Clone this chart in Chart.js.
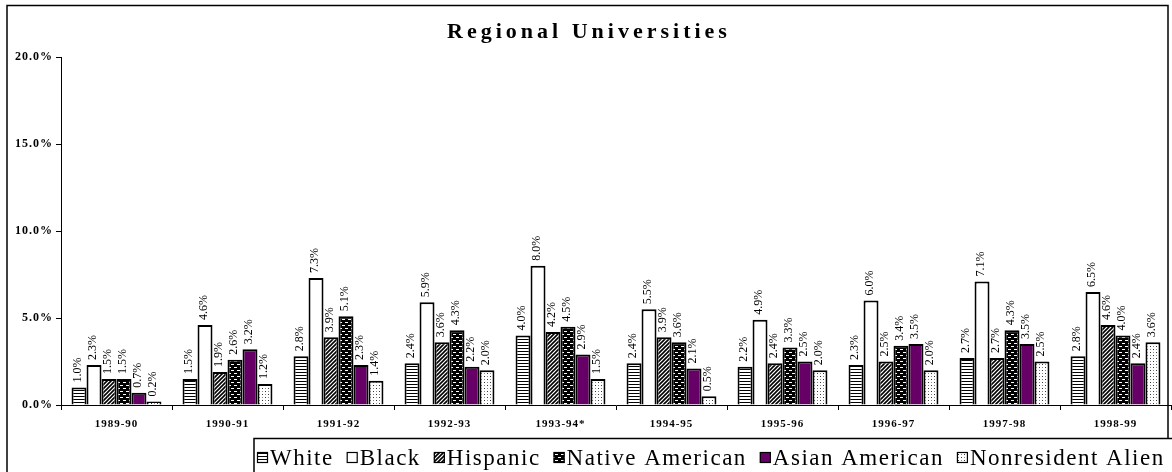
<!DOCTYPE html>
<html>
<head>
<meta charset="utf-8">
<script src="https://cdn.jsdelivr.net/npm/chart.js@4.4.1/dist/chart.umd.min.js"></script>
<style>
html,body{margin:0;padding:0;background:#fff;}
#wrap{width:1172px;height:472px;position:relative;}
</style>
</head>
<body>
<div id="wrap"><canvas id="c" width="1172" height="472"></canvas></div>
<script>
const categories = ['1989-90','1990-91','1991-92','1992-93','1993-94*','1994-95','1995-96','1996-97','1997-98','1998-99'];
const white       = [1.0, 1.5, 2.8, 2.4, 4.0, 2.4, 2.2, 2.3, 2.7, 2.8];
const black       = [2.3, 4.6, 7.3, 5.9, 8.0, 5.5, 4.9, 6.0, 7.1, 6.5];
const hispanic    = [1.5, 1.9, 3.9, 3.6, 4.2, 3.9, 2.4, 2.5, 2.7, 4.6];
const nativeAm    = [1.5, 2.6, 5.1, 4.3, 4.5, 3.6, 3.3, 3.4, 4.3, 4.0];
const asianAm     = [0.7, 3.2, 2.3, 2.2, 2.9, 2.1, 2.5, 3.5, 3.5, 2.4];
const nonresident = [0.2, 1.2, 1.4, 2.0, 1.5, 0.5, 2.0, 2.0, 2.5, 3.6];
const yTicks = [0, 5, 10, 15, 20];
const titleText = 'Regional Universities';
const SERIF = '"Liberation Serif", "Times New Roman", serif';

function tile(w, h, draw) {
  const c = document.createElement('canvas');
  c.width = w; c.height = h;
  const g = c.getContext('2d');
  draw(g);
  return document.getElementById('c').getContext('2d').createPattern(c, 'repeat');
}
const pWhite = tile(4, 3, g => { g.fillStyle = '#fff'; g.fillRect(0,0,4,3); g.fillStyle = '#000'; g.fillRect(0,0,4,1); });
const pHisp = tile(4, 4, g => {
  g.fillStyle = '#fff'; g.fillRect(0,0,4,4);
  g.strokeStyle = '#000'; g.lineWidth = 1.6;
  g.beginPath(); g.moveTo(-1,5); g.lineTo(5,-1); g.stroke();
  g.beginPath(); g.moveTo(-1,1); g.lineTo(1,-1); g.stroke();
  g.beginPath(); g.moveTo(3,5); g.lineTo(5,3); g.stroke();
});
const pNative = tile(6, 6, g => {
  g.fillStyle = '#000'; g.fillRect(0,0,6,6);
  g.fillStyle = '#fff'; g.fillRect(0,1,3,1); g.fillRect(3,4,3,1);
});
const pNonres = tile(6, 6, g => {
  g.fillStyle = '#fff'; g.fillRect(0,0,6,6);
  g.fillStyle = '#333'; g.fillRect(1,1,1,1); g.fillRect(4,4,1,1);
  g.fillStyle = '#888'; g.fillRect(4,1,1,1); g.fillRect(1,4,1,1);
});

function ds(label, data, bg) {
  return { label, data, backgroundColor: bg, borderColor: '#000', borderWidth: 2,
           categoryPercentage: 0.81, barPercentage: 1.0 };
}

const spacingPlugin = {
  id: 'spacing',
  beforeLayout(chart) { chart.ctx.letterSpacing = '1px'; },
  beforeDraw(chart) { chart.ctx.letterSpacing = '1px'; }
};

const labelsPlugin = {
  id: 'barLabels',
  afterDatasetsDraw(chart) {
    const ctx = chart.ctx;
    ctx.save();
    ctx.letterSpacing = '0px';
    ctx.font = '12px ' + SERIF;
    ctx.fillStyle = '#000';
    ctx.textAlign = 'left';
    ctx.textBaseline = 'middle';
    chart.data.datasets.forEach((d, i) => {
      const meta = chart.getDatasetMeta(i);
      meta.data.forEach((el, j) => {
        ctx.save();
        ctx.translate(el.x - 1, el.y - 5);
        ctx.rotate(-Math.PI / 2);
        ctx.fillText(d.data[j].toFixed(1) + '%', 0, 0);
        ctx.restore();
      });
    });
    ctx.restore();
  }
};

const framePlugin = {
  id: 'frame',
  afterDraw(chart) {
    const ctx = chart.ctx;
    ctx.save();
    ctx.strokeStyle = '#000';
    ctx.lineWidth = 1.5;
    ctx.strokeRect(7, 5.5, 1161, 470);
    // title
    ctx.letterSpacing = '4px';
    ctx.font = 'bold 22px ' + SERIF;
    ctx.fillStyle = '#000';
    ctx.textAlign = 'center';
    ctx.textBaseline = 'alphabetic';
    ctx.fillText(titleText, 589, 38);
    // legend
    const boxLeft = 254, boxTop = 438.5;
    ctx.fillStyle = '#fff';
    ctx.fillRect(boxLeft, boxTop, 1172 - boxLeft, 40);
    ctx.lineWidth = 1.5;
    ctx.strokeRect(boxLeft, boxTop, 1180 - boxLeft, 40);
    ctx.letterSpacing = '1.5px';
    ctx.font = '23px ' + SERIF;
    ctx.textAlign = 'left';
    let x = boxLeft + 3;
    const iconTop = 452, icon = 11, baseline = 465;
    chart.data.datasets.forEach(d => {
      ctx.fillStyle = d.backgroundColor;
      ctx.fillRect(x, iconTop, icon, icon);
      ctx.lineWidth = 1.2;
      ctx.strokeStyle = '#000';
      ctx.strokeRect(x + 0.5, iconTop + 0.5, icon - 1, icon - 1);
      ctx.fillStyle = '#000';
      ctx.fillText(d.label, x + icon + 2, baseline);
      x += icon + 2 + ctx.measureText(d.label).width + 13;
    });
    ctx.restore();
  }
};

new Chart(document.getElementById('c'), {
  type: 'bar',
  data: {
    labels: categories,
    datasets: [
      ds('White', white, pWhite),
      ds('Black', black, '#fff'),
      ds('Hispanic', hispanic, pHisp),
      ds('Native American', nativeAm, pNative),
      ds('Asian American', asianAm, '#660066'),
      ds('Nonresident Alien', nonresident, pNonres)
    ]
  },
  plugins: [spacingPlugin, labelsPlugin, framePlugin],
  options: {
    responsive: false,
    animation: false,
    devicePixelRatio: 1,
    layout: { padding: { top: 57, right: 1, bottom: 34, left: 0 } },
    plugins: {
      title: { display: false },
      tooltip: { enabled: false },
      legend: { display: false }
    },
    scales: {
      x: {
        grid: { display: true, drawOnChartArea: false, tickLength: 5, color: '#000', offset: true },
        border: { display: true, color: '#000', width: 1 },
        ticks: {
          font: { family: SERIF, size: 11, weight: 'bold' },
          color: '#000', maxRotation: 0, padding: 8
        },
        afterFit(s) { s.height = 33; }
      },
      y: {
        min: 0, max: 20,
        afterBuildTicks(s) { s.ticks = yTicks.map(v => ({ value: v })); },
        grid: { display: true, drawOnChartArea: false, tickLength: 5, color: '#000' },
        border: { display: true, color: '#000', width: 1 },
        ticks: {
          font: { family: SERIF, size: 12, weight: 'bold' },
          color: '#000', padding: 3,
          callback: v => v.toFixed(1) + '%'
        },
        afterFit(s) { s.width = 61; }
      }
    }
  }
});
</script>
</body>
</html>
